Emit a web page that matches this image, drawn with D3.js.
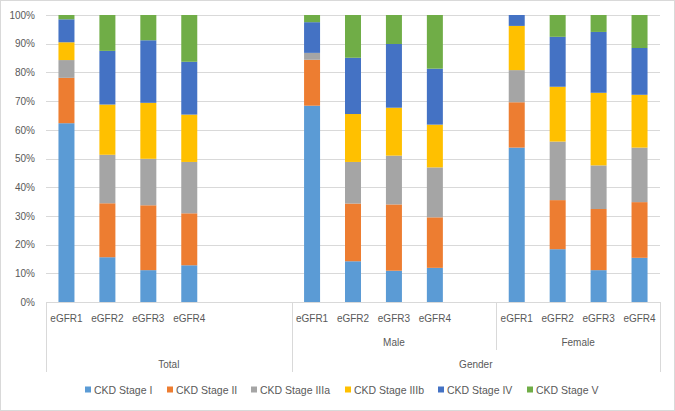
<!DOCTYPE html>
<html>
<head>
<meta charset="utf-8">
<script src="https://cdn.jsdelivr.net/npm/d3@7"></script>
<style>
  html, body { margin: 0; padding: 0; background: #fff; }
  svg { display: block; }
  text { font-family: "Liberation Sans", Arial, sans-serif; fill: #595959; }
</style>
</head>
<body>
<svg id="chart" width="675" height="411"></svg>
<script>
// ---- Data ----
const seriesNames = ["CKD Stage I", "CKD Stage II", "CKD Stage IIIa", "CKD Stage IIIb", "CKD Stage IV", "CKD Stage V"];
const seriesColors = ["#5B9BD5", "#ED7D31", "#A5A5A5", "#FFC000", "#4472C4", "#70AD47"];
const eGFRLabels = ["eGFR1", "eGFR2", "eGFR3", "eGFR4"];
const subGroups = ["Total", "Male", "Female"];
const subGroupSlots = [6, 5, 4]; // category slots per group (incl. empty spacer slots)
const outerGroups = [{ label: "Total", members: ["Total"] }, { label: "Gender", members: ["Male", "Female"] }];
const yTicks = [0, 10, 20, 30, 40, 50, 60, 70, 80, 90, 100];

// values (%) in order: Total eGFR1-4, Male eGFR1-4, Female eGFR1-4
const stageI    = [62.3, 15.6, 11.1, 12.8, 68.4, 14.2, 10.9, 11.9, 53.8, 18.4, 11.1, 15.4];
const stageII   = [15.8, 18.8, 22.6, 18.1, 16.0, 20.1, 23.1, 17.6, 15.8, 17.1, 21.3, 19.4];
const stageIIIa = [ 6.2, 16.9, 16.2, 17.9,  2.4, 14.5, 17.0, 17.4, 11.2, 20.4, 15.2, 19.0];
const stageIIIb = [ 6.2, 17.5, 19.5, 16.5,  0.0, 16.7, 16.7, 14.9, 15.4, 19.1, 25.3, 18.4];
const stageIV   = [ 8.0, 18.7, 21.8, 18.4, 10.7, 19.6, 22.2, 19.5,  3.8, 17.4, 21.2, 16.3];
const stageV    = [ 1.5, 12.5,  8.8, 16.3,  2.5, 14.9, 10.1, 18.7,  0.0,  7.6,  5.9, 11.5];
const seriesValues = [stageI, stageII, stageIIIa, stageIIIb, stageIV, stageV];

// ---- Build slots ----
const slots = [];
const rows = [];
subGroups.forEach((g, gi) => {
  for (let s = 0; s < subGroupSlots[gi]; s++) {
    const key = g + "|" + s;
    slots.push(key);
    if (s < eGFRLabels.length) {
      const idx = gi * eGFRLabels.length + s;
      const row = { key, group: g, label: eGFRLabels[s] };
      seriesNames.forEach((n, si) => row[n] = seriesValues[si][idx]);
      rows.push(row);
    }
  }
});

// normalise to 100%
rows.forEach(r => {
  const tot = d3.sum(seriesNames, n => r[n]);
  seriesNames.forEach(n => r[n] = r[n] / tot);
});

const svg = d3.select("#chart");
const W = 675, H = 411;
const plot = { left: 46, right: 660, top: 15, bottom: 302 };

// outer border
svg.append("rect").attr("x", 0.5).attr("y", 0.5).attr("width", W - 1).attr("height", H - 1)
  .attr("fill", "#fff").attr("stroke", "#d9d9d9");

const x = d3.scaleBand().domain(slots).range([plot.left, plot.right]).paddingInner(0).paddingOuter(0);
const y = d3.scaleLinear().domain([0, 1]).range([plot.bottom, plot.top]);

// gridlines + y labels via axis
const yAxis = d3.axisLeft(y).tickValues(yTicks.map(t => t / 100)).tickFormat(d3.format(".0%"))
  .tickSize(-(plot.right - plot.left)).tickPadding(11);
const gy = svg.append("g").attr("transform", `translate(${plot.left},0)`).call(yAxis);
gy.select(".domain").remove();
gy.selectAll(".tick line").attr("stroke", "#d9d9d9").attr("shape-rendering", "crispEdges");
gy.selectAll(".tick text").style("font-size", "10px").attr("fill", "#595959");

// stacked bars
const stack = d3.stack().keys(seriesNames);
const stacked = stack(rows);
const barW = 16;
svg.append("g").selectAll("g").data(stacked).join("g")
  .attr("fill", (d, i) => seriesColors[i])
  .selectAll("rect").data(d => d).join("rect")
  .attr("x", d => x(d.data.key) + x.bandwidth() / 2 - barW / 2)
  .attr("width", barW)
  .attr("y", d => y(d[1]))
  .attr("height", d => Math.max(0, y(d[0]) - y(d[1])));

// category axis baseline
svg.append("line").attr("x1", plot.left).attr("x2", plot.right)
  .attr("y1", plot.bottom + 0.5).attr("y2", plot.bottom + 0.5)
  .attr("stroke", "#d9d9d9");

// eGFR labels
svg.append("g").selectAll("text").data(rows).join("text")
  .attr("x", d => x(d.key) + x.bandwidth() / 2)
  .attr("y", 322)
  .attr("text-anchor", "middle")
  .style("font-size", "10px")
  .text(d => d.label);

// group extents
const groupExtent = g => {
  const ks = slots.filter(k => k.startsWith(g + "|"));
  return [x(ks[0]), x(ks[ks.length - 1]) + x.bandwidth()];
};

// second level labels (Male, Female)
const lv2 = subGroups.filter(g => g !== "Total");
svg.append("g").selectAll("text").data(lv2).join("text")
  .attr("x", g => d3.mean(groupExtent(g)))
  .attr("y", 346)
  .attr("text-anchor", "middle")
  .style("font-size", "10px")
  .text(g => g);

// outer labels
svg.append("g").selectAll("text").data(outerGroups).join("text")
  .attr("x", og => {
    const a = groupExtent(og.members[0])[0];
    const b = groupExtent(og.members[og.members.length - 1])[1];
    return (a + b) / 2;
  })
  .attr("y", 368)
  .attr("text-anchor", "middle")
  .style("font-size", "10px")
  .text(og => og.label);

// separator lines
const sepFull = [plot.left, groupExtent("Male")[0], plot.right];
svg.append("g").selectAll("line").data(sepFull).join("line")
  .attr("x1", d => Math.round(d) + 0.5).attr("x2", d => Math.round(d) + 0.5)
  .attr("y1", plot.bottom).attr("y2", 372)
  .attr("stroke", "#d9d9d9");
svg.append("line")
  .attr("x1", Math.round(groupExtent("Female")[0]) + 0.5).attr("x2", Math.round(groupExtent("Female")[0]) + 0.5)
  .attr("y1", plot.bottom).attr("y2", 350)
  .attr("stroke", "#d9d9d9");

// legend
const legendX = [85, 167, 251, 345, 438, 527];
const lg = svg.append("g").selectAll("g").data(seriesNames).join("g")
  .attr("transform", (d, i) => `translate(${legendX[i]},390)`);
lg.append("rect").attr("x", 0).attr("y", -3.5).attr("width", 6).attr("height", 6)
  .attr("fill", (d, i) => seriesColors[i]);
lg.append("text").attr("x", 9).attr("y", 3.5).style("font-size", "10.5px").text(d => d);
</script>
</body>
</html>
